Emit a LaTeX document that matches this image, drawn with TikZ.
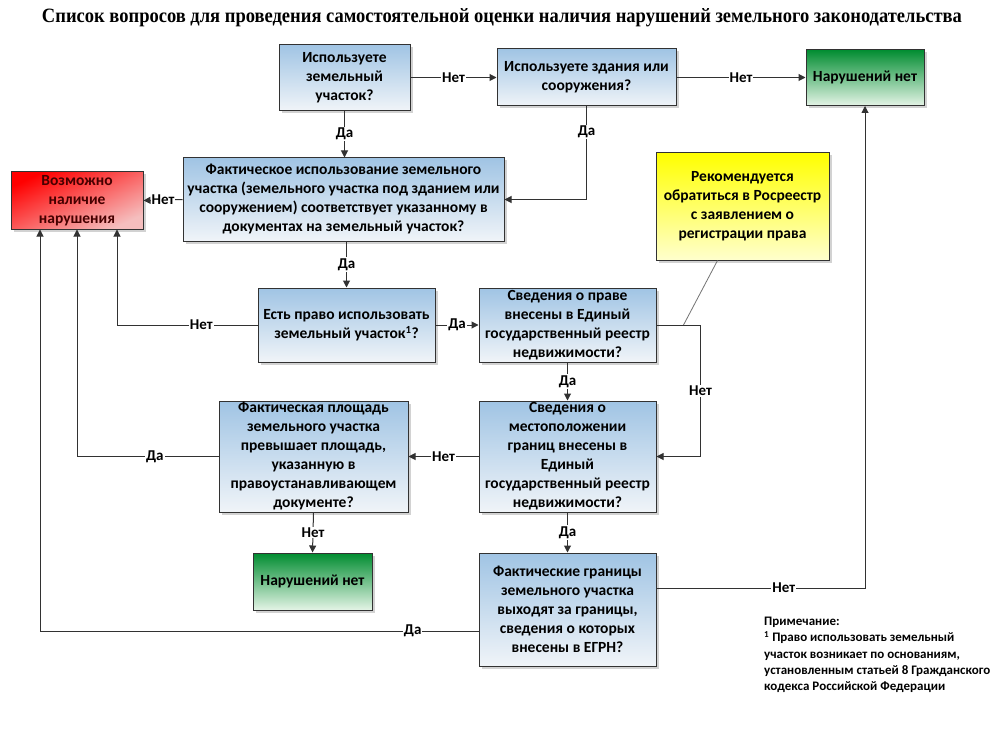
\documentclass[tikz,border=0pt]{standalone}
\usepackage{fontspec}
\setmainfont{Carlito}
\newfontfamily\titlefont{Liberation Serif}
\usetikzlibrary{arrows.meta,shadows}
\definecolor{bluetop}{RGB}{160,196,228}
\definecolor{bluebot}{RGB}{240,244,248}
\definecolor{greentop}{RGB}{0,140,48}
\definecolor{greenbot}{RGB}{228,244,230}
\definecolor{redtop}{RGB}{255,0,0}
\definecolor{redbot}{RGB}{245,190,190}
\definecolor{yeltop}{RGB}{255,255,0}
\definecolor{yelbot}{RGB}{255,255,205}
\definecolor{linec}{RGB}{50,50,50}
\definecolor{redtext}{RGB}{70,0,0}
\tikzset{
  box/.style={draw=linec, line width=1pt, inner sep=0pt, align=center,
    font=\fontsize{15.5pt}{19pt}\selectfont\bfseries,
    drop shadow={shadow xshift=2.5pt, shadow yshift=-2.5pt, fill=black!35, opacity=0.5}},
  qbox/.style={box, top color=bluetop, bottom color=bluebot},
  okbox/.style={box, top color=greentop, bottom color=greenbot},
  redbox/.style={box, top color=redtop, bottom color=redbot, shading angle=25, text=redtext},
  yelbox/.style={box, top color=yeltop, bottom color=yelbot},
  conn/.style={draw=linec, line width=1pt},
  arr/.style={conn, -{Triangle[length=7pt,width=7pt]}},
  lbl/.style={fill=white, inner sep=1pt, font=\fontsize{15pt}{17pt}\selectfont\bfseries},
}
\begin{document}
\begin{tikzpicture}[x=1pt,y=-1pt]
\useasboundingbox[fill=white] (0,0) rectangle (1006,738);
\node[anchor=base] (title) at (502,23) {\resizebox{920pt}{14pt}{\titlefont\bfseries Список вопросов для проведения самостоятельной оценки наличия нарушений земельного законодательства}};

\node[qbox, minimum width=131pt, minimum height=66pt] (q1) at (344.5,77.5) {Используете\\земельный\\участок?};
\node[qbox, minimum width=179pt, minimum height=57pt] (q2) at (586.5,77.5) {Используете здания или\\сооружения?};
\node[okbox, minimum width=118pt, minimum height=56pt] (ok1) at (865,77.5) {Нарушений нет};
\node[redbox, minimum width=132pt, minimum height=57pt] (red) at (77,200.5) {Возможно\\наличие\\нарушения};
\node[qbox, minimum width=321pt, minimum height=83pt] (q3) at (343.5,199.5) {Фактическое использование земельного\\участка (земельного участка под зданием или\\сооружением) соответствует указанному в\\документах на земельный участок?};
\node[yelbox, minimum width=173pt, minimum height=107pt] (yel) at (742.5,206.5) {Рекомендуется\\обратиться в Росреестр\\с заявлением о\\регистрации права};
\node[qbox, minimum width=177pt, minimum height=74pt] (q4) at (346.5,325) {Есть право использовать\\земельный участок\textsuperscript{1}?};
\node[qbox, minimum width=177pt, minimum height=74pt] (q5) at (567.5,325) {Сведения о праве\\внесены в Единый\\государственный реестр\\недвижимости?};
\node[qbox, minimum width=189pt, minimum height=111pt] (q6) at (313.5,456.5) {Фактическая площадь\\земельного участка\\превышает площадь,\\указанную в\\правоустанавливающем\\документе?};
\node[qbox, minimum width=177pt, minimum height=111pt] (q7) at (567.5,456.5) {Сведения о\\местоположении\\границ внесены в\\Единый\\государственный реестр\\недвижимости?};
\node[okbox, minimum width=119pt, minimum height=57pt] (ok2) at (312.5,581.5) {Нарушений нет};
\node[qbox, minimum width=177pt, minimum height=113pt] (q8) at (567.5,609.5) {Фактические границы\\земельного участка\\выходят за границы,\\сведения о которых\\внесены в ЕГРН?};

\node[anchor=north west, align=left, inner sep=0pt, font=\fontsize{13pt}{16.3pt}\selectfont\bfseries] (note) at (764,617) {Примечание:\\\textsuperscript{1} Право использовать земельный\\участок возникает по основаниям,\\установленным статьей 8 Гражданского\\кодекса Российской Федерации};

% connectors
\draw[arr] (q1.east) -- node[lbl]{Нет} (q2.west);
\draw[arr] (q2.east) -- node[lbl, pos=0.5]{Нет} (ok1.west);
\draw[arr] (q1.south) -- node[lbl]{Да} (q1.south |- q3.north);
\coordinate (c2) at (q2.south |- q3.east);
\draw[arr] (q2.south) -- node[lbl, pos=0.27]{Да} (c2) -- (q3.east);
\draw[arr] (q3.west) -- node[lbl]{Нет} (red.east);
\draw[arr] (q3.south -| q4.north) -- node[lbl]{Да} (q4.north);
\coordinate (r3) at ([xshift=40pt]red.south);
\coordinate (c4) at (q4.west -| r3);
\draw[arr] (q4.west) -- node[lbl, pos=0.4]{Нет} (c4) -- (r3);
\draw[arr] (q4.east) -- node[lbl]{Да} (q5.west);
\coordinate (c5a) at ([xshift=44pt]q5.east);
\coordinate (c5b) at (c5a |- q7.east);
\draw[arr] (q5.east) -- (c5a) -- node[lbl, pos=0.5]{Нет} (c5b) -- (q7.east);
\coordinate (cl) at ([xshift=27pt]q5.east);
\draw[draw=black!55, line width=0.8pt] ([xshift=-25pt]yel.south) -- (cl);
\draw[arr] (q5.south) -- node[lbl]{Да} (q7.north);
\draw[arr] (q7.west) -- node[lbl]{Нет} (q6.east);
\coordinate (c6) at (q6.west -| red.south);
\draw[arr] (q6.west) -- node[lbl, pos=0.45]{Да} (c6) -- (red.south);
\draw[arr] (q6.south) -- node[lbl]{Нет} (ok2.north);
\draw[arr] (q7.south) -- node[lbl]{Да} (q8.north);
\coordinate (e8) at ([yshift=21.5pt]q8.east);
\coordinate (c8) at (e8 -| ok1.south);
\draw[arr] (e8) -- node[lbl, pos=0.61]{Нет} (c8) -- (ok1.south);
\coordinate (w8) at ([yshift=-21.5pt]q8.west);
\coordinate (r1) at ([xshift=-37pt]red.south);
\coordinate (c9) at (w8 -| r1);
\draw[arr] (w8) -- node[lbl, pos=0.15]{Да} (c9) -- (r1);
\end{tikzpicture}
\end{document}
